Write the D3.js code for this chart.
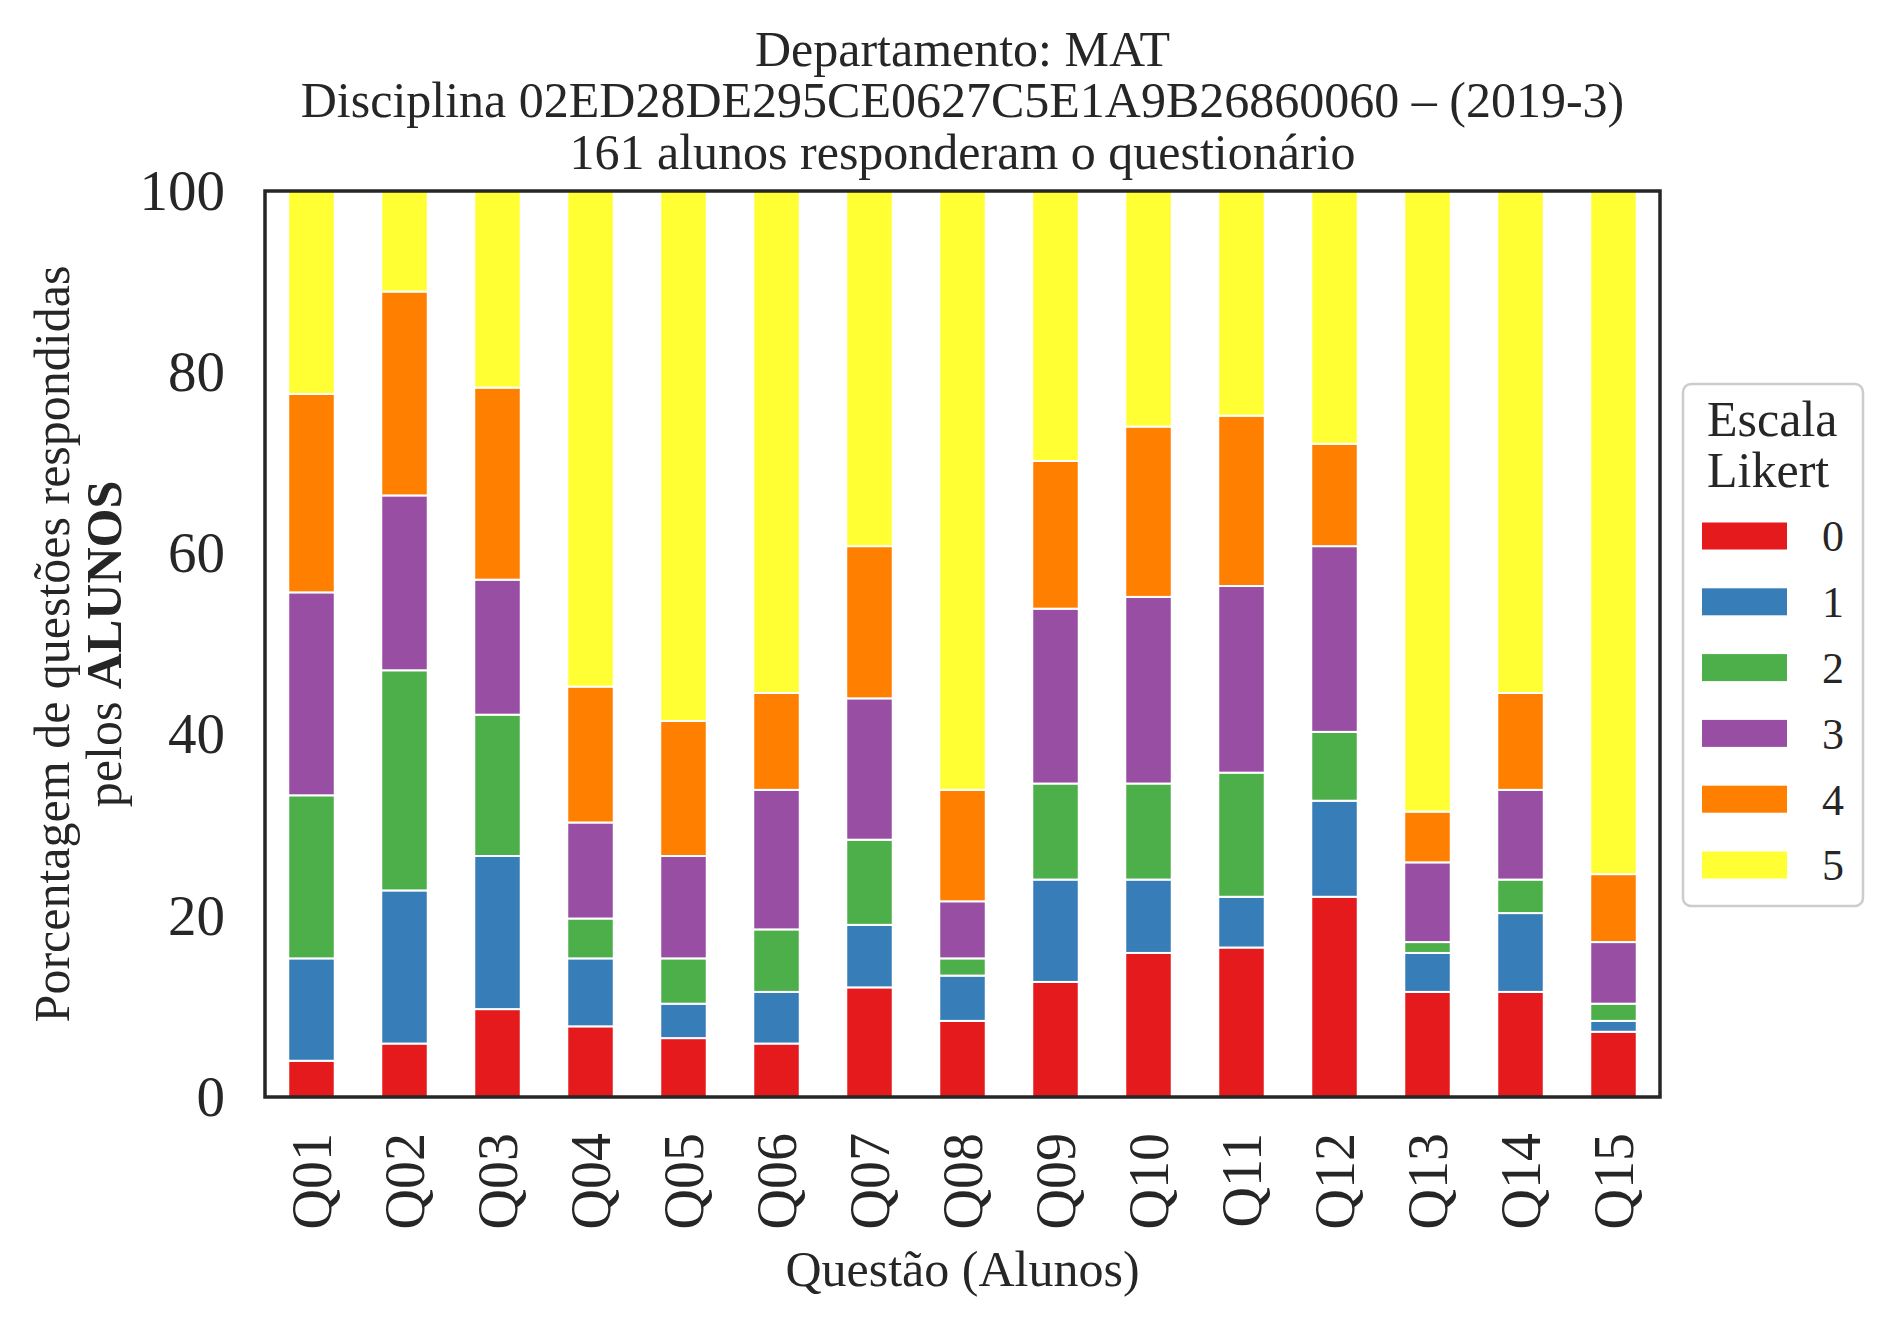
<!DOCTYPE html>
<html>
<head>
<meta charset="utf-8">
<script src="https://cdn.jsdelivr.net/npm/d3@7"></script>
<style>
  body { margin: 0; background: #fff; }
  text { font-family: "Liberation Serif", "DejaVu Serif", serif; fill: #262626; }
</style>
</head>
<body>
<svg id="chart" width="1892" height="1323"></svg>
<script>
// Questions (x categories)
var questions = ["Q01", "Q02", "Q03", "Q04", "Q05", "Q06", "Q07", "Q08",
                 "Q09", "Q10", "Q11", "Q12", "Q13", "Q14", "Q15"];

// Likert levels (legend)
var levels = ["0", "1", "2", "3", "4", "5"];

// Percent of answers per Likert level, one array per level
var level0 = [4.0, 5.9, 9.7, 7.8, 6.5, 5.9, 12.1, 8.4, 12.7, 15.9, 16.5, 22.1, 11.6, 11.6, 7.2];
var level1 = [11.3, 16.9, 16.9, 7.5, 3.8, 5.7, 6.9, 5.0, 11.3, 8.1, 5.6, 10.6, 4.3, 8.7, 1.2];
var level2 = [18.0, 24.3, 15.6, 4.4, 5.0, 6.9, 9.4, 1.9, 10.6, 10.6, 13.7, 7.6, 1.2, 3.7, 1.9];
var level3 = [22.4, 19.3, 14.9, 10.6, 11.3, 15.4, 15.6, 6.3, 19.3, 20.6, 20.6, 20.5, 8.8, 9.9, 6.8];
var level4 = [21.9, 22.5, 21.2, 15.0, 14.9, 10.7, 16.8, 12.3, 16.3, 18.8, 18.8, 11.3, 5.6, 10.7, 7.5];
var level5 = [22.4, 11.1, 21.7, 54.7, 58.5, 55.4, 39.2, 66.1, 29.8, 26.0, 24.8, 27.9, 68.5, 55.4, 75.4];

var yTicks = [0, 20, 40, 60, 80, 100];

var colors = ["#e41a1c", "#377eb8", "#4daf4a", "#984ea3", "#ff7f00", "#ffff33"];

// build table for d3.stack
var series = [level0, level1, level2, level3, level4, level5];
var table = questions.map(function (q, i) {
  var row = { q: q };
  levels.forEach(function (l, j) { row[l] = series[j][i]; });
  return row;
});

var svg = d3.select("#chart");
var plot = { left: 265, right: 1660, top: 191, bottom: 1097 };

var x = d3.scaleBand()
  .domain(questions)
  .range([plot.left, plot.right])
  .paddingInner(0.5)
  .paddingOuter(0.25);

var y = d3.scaleLinear()
  .domain([0, 100])
  .range([plot.bottom, plot.top]);

var color = d3.scaleOrdinal().domain(levels).range(colors);

var stacked = d3.stack().keys(levels)(table);

// Bars
svg.append("g")
  .selectAll("g")
  .data(stacked)
  .join("g")
    .attr("fill", function (d) { return color(d.key); })
  .selectAll("rect")
  .data(function (d) { return d; })
  .join("rect")
    .attr("x", function (d) { return x(d.data.q); })
    .attr("y", function (d) { return y(d[1]); })
    .attr("width", x.bandwidth())
    .attr("height", function (d) { return y(d[0]) - y(d[1]); })
    .attr("stroke", "#fff")
    .attr("stroke-width", 2);

// Y axis labels
var yAxis = svg.append("g")
  .attr("transform", "translate(" + plot.left + ",0)")
  .call(d3.axisLeft(y).tickValues(yTicks).tickSize(0).tickPadding(40));
yAxis.select(".domain").remove();
yAxis.selectAll("text")
  .attr("font-size", 57)
  .attr("font-family", "Liberation Serif")
  .attr("fill", "#262626");

// X axis labels (rotated)
var xAxis = svg.append("g")
  .attr("transform", "translate(0," + plot.bottom + ")")
  .call(d3.axisBottom(x).tickSize(0));
xAxis.select(".domain").remove();
xAxis.selectAll("text")
  .attr("font-size", 56)
  .attr("font-family", "Liberation Serif")
  .attr("fill", "#262626")
  .attr("text-anchor", "end")
  .attr("transform", "rotate(-90)")
  .attr("x", -36)
  .attr("y", 0)
  .attr("dy", "0.35em");

// Frame
svg.append("rect")
  .attr("x", plot.left)
  .attr("y", plot.top)
  .attr("width", plot.right - plot.left)
  .attr("height", plot.bottom - plot.top)
  .attr("fill", "none")
  .attr("stroke", "#262626")
  .attr("stroke-width", 3.5);

// Title
var titleLines = [
  "Departamento: MAT",
  "Disciplina 02ED28DE295CE0627C5E1A9B26860060 \u2013 (2019-3)",
  "161 alunos responderam o questionário"
];
var cx = (plot.left + plot.right) / 2;
svg.append("g").selectAll("text")
  .data(titleLines)
  .join("text")
    .attr("x", cx)
    .attr("y", function (d, i) { return 48 + i * 51.5; })
    .attr("dy", "0.35em")
    .attr("text-anchor", "middle")
    .attr("font-size", 50)
    .text(function (d) { return d; });

// X label
svg.append("text")
  .attr("x", cx)
  .attr("y", 1268)
  .attr("dy", "0.35em")
  .attr("text-anchor", "middle")
  .attr("font-size", 50)
  .text("Questão (Alunos)");

// Y label, two lines
var cy = (plot.top + plot.bottom) / 2;
svg.append("text")
  .attr("transform", "translate(51," + cy + ") rotate(-90)")
  .attr("dy", "0.35em")
  .attr("text-anchor", "middle")
  .attr("font-size", 50)
  .text("Porcentagem de questões respondidas");
var yl2 = svg.append("text")
  .attr("transform", "translate(103," + cy + ") rotate(-90)")
  .attr("dy", "0.35em")
  .attr("text-anchor", "middle")
  .attr("font-size", 50);
yl2.append("tspan").text("pelos ");
yl2.append("tspan").attr("font-weight", "bold").text("ALUNOS");

// Legend
var lg = svg.append("g");
lg.append("rect")
  .attr("x", 1683)
  .attr("y", 384)
  .attr("width", 180)
  .attr("height", 522)
  .attr("rx", 8)
  .attr("fill", "#fff")
  .attr("stroke", "#cccccc")
  .attr("stroke-width", 2.5);
["Escala", "Likert"].forEach(function (t, i) {
  lg.append("text")
    .attr("x", 1707)
    .attr("y", 418 + i * 51)
    .attr("dy", "0.35em")
    .attr("font-size", 50)
    .text(t);
});
var ly = d3.scalePoint().domain(levels).range([536, 865]);
var items = lg.selectAll("g.item")
  .data(levels)
  .join("g")
    .attr("class", "item")
    .attr("transform", function (d) { return "translate(0," + ly(d) + ")"; });
items.append("rect")
  .attr("x", 1702)
  .attr("y", -13.5)
  .attr("width", 85)
  .attr("height", 27)
  .attr("fill", function (d) { return color(d); });
items.append("text")
  .attr("x", 1822)
  .attr("dy", "0.35em")
  .attr("font-size", 44)
  .text(function (d) { return d; });
</script>
</body>
</html>
